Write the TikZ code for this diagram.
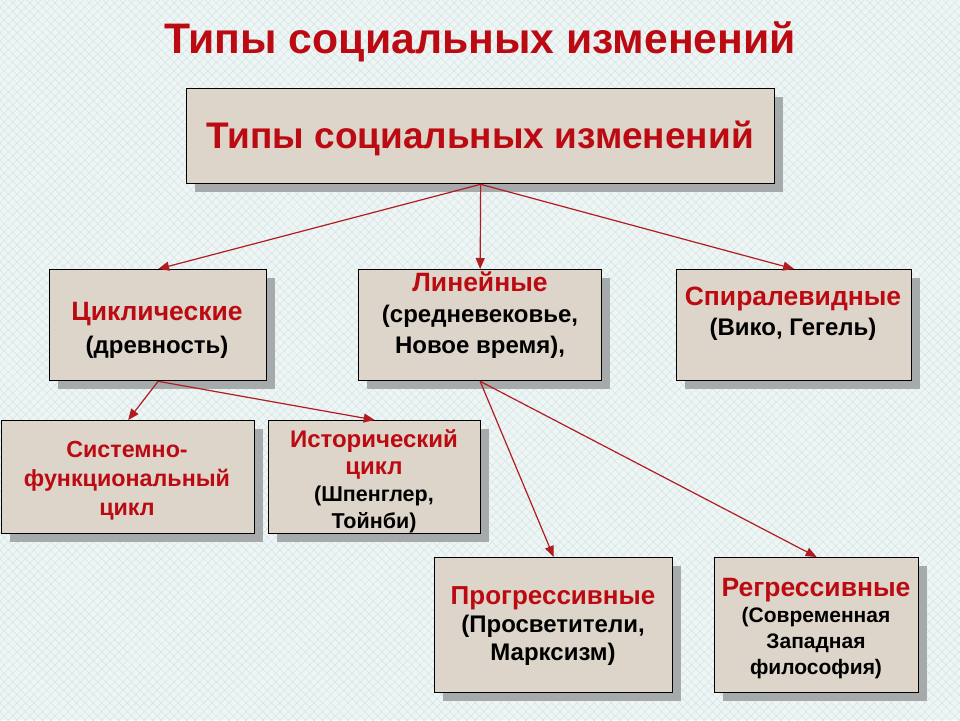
\documentclass[tikz,border=0pt]{standalone}
\usepackage{fontspec}
\setmainfont{Liberation Sans}
\usetikzlibrary{arrows.meta,shadows,patterns.meta}
\definecolor{bgc}{HTML}{EEF5F5}
\definecolor{hatchc}{HTML}{D6E4E4}
\definecolor{boxc}{HTML}{DDD5C9}
\definecolor{shadc}{HTML}{A7AAAA}
\definecolor{tred}{HTML}{BC0A12}
\definecolor{arrc}{HTML}{B01C22}
\newcommand\rd[2][26.5]{{\color{tred}\fontsize{#1}{29}\selectfont #2}}
\tikzset{
  box/.style={draw=black, line width=1.3pt, fill=boxc, inner sep=0pt, anchor=north west,
    drop shadow={shadow xshift=8pt, shadow yshift=-8pt, opacity=1, fill=shadc}},
  lbl/.style={align=center, font=\bfseries\fontsize{24}{29}\selectfont, text=black, inner sep=0pt},
  conn/.style={draw=arrc, line width=1.2pt, -{Triangle[length=11pt,width=9pt]}},
}
\begin{document}
\begin{tikzpicture}[x=1pt,y=-1pt]
\useasboundingbox (0,0) rectangle (960,720);
\fill[bgc] (0,0) rectangle (960,720);
\fill[pattern={Lines[angle=45,distance=6pt,line width=0.5pt]}, pattern color=hatchc] (0,0) rectangle (960,720);
\fill[pattern={Lines[angle=-45,distance=6pt,line width=0.5pt]}, pattern color=hatchc] (0,0) rectangle (960,720);

\node[font=\bfseries\fontsize{42.7}{48}\selectfont, text=tred, inner sep=0pt] (title) at (480,42) {Типы социальных изменений};

\node[box, minimum width=588pt, minimum height=95pt] (top) at (186,88) {};
\node[lbl, font=\bfseries\fontsize{37}{42}\selectfont, text=tred] (topt) at (480,138) {Типы социальных изменений};

\node[box, minimum width=217pt, minimum height=111pt] (cyc) at (49,269) {};
\node[box, minimum width=243pt, minimum height=111pt] (lin) at (358,269) {};
\node[box, minimum width=235pt, minimum height=111pt] (spi) at (676,269) {};
\node[box, minimum width=253pt, minimum height=113pt] (sys) at (1,420) {};
\node[box, minimum width=212pt, minimum height=113pt] (his) at (268,420) {};
\node[box, minimum width=238pt, minimum height=135pt] (pro) at (434,557) {};
\node[box, minimum width=204pt, minimum height=135pt] (reg) at (714,557) {};

\node[lbl, font=\bfseries\fontsize{24}{33}\selectfont] (cyct) at (157,330) {\rd{Циклические}\\(древность)};
\node[lbl, font=\bfseries\fontsize{24}{31}\selectfont] (lint) at (480,315) {\rd{Линейные}\\(средневековье,\\Новое время),};
\node[lbl, font=\bfseries\fontsize{24}{30}\selectfont] (spit) at (793,314) {\rd{Спиралевидные}\\(Вико, Гегель)};
\node[lbl] (syst) at (127,481) {\rd[23.3]{Системно-}\\\rd[23.3]{функциональный}\\\rd[23.3]{цикл}};
\node[lbl, font=\bfseries\fontsize{21.5}{27}\selectfont] (hist) at (374,481) {\rd[24]{Исторический}\\\rd[24]{цикл}\\(Шпенглер,\\Тойнби)};
\node[lbl, font=\bfseries\fontsize{24}{28}\selectfont] (prot) at (553,626) {\rd[26]{Прогрессивные}\\(Просветители,\\Марксизм)};
\node[lbl, font=\bfseries\fontsize{21}{26}\selectfont] (regt) at (816,629) {\rd[26.5]{Регрессивные}\\(Современная\\Западная\\философия)};

\draw[conn] (top.south) -- (cyc.north);
\draw[conn] (top.south) -- (lin.north);
\draw[conn] (top.south) -- (spi.north);
\draw[conn] (cyc.south) -- (sys.north);
\draw[conn] (cyc.south) -- (his.north);
\draw[conn] (lin.south) -- (pro.north);
\draw[conn] (lin.south) -- (reg.north);
\end{tikzpicture}
\end{document}
